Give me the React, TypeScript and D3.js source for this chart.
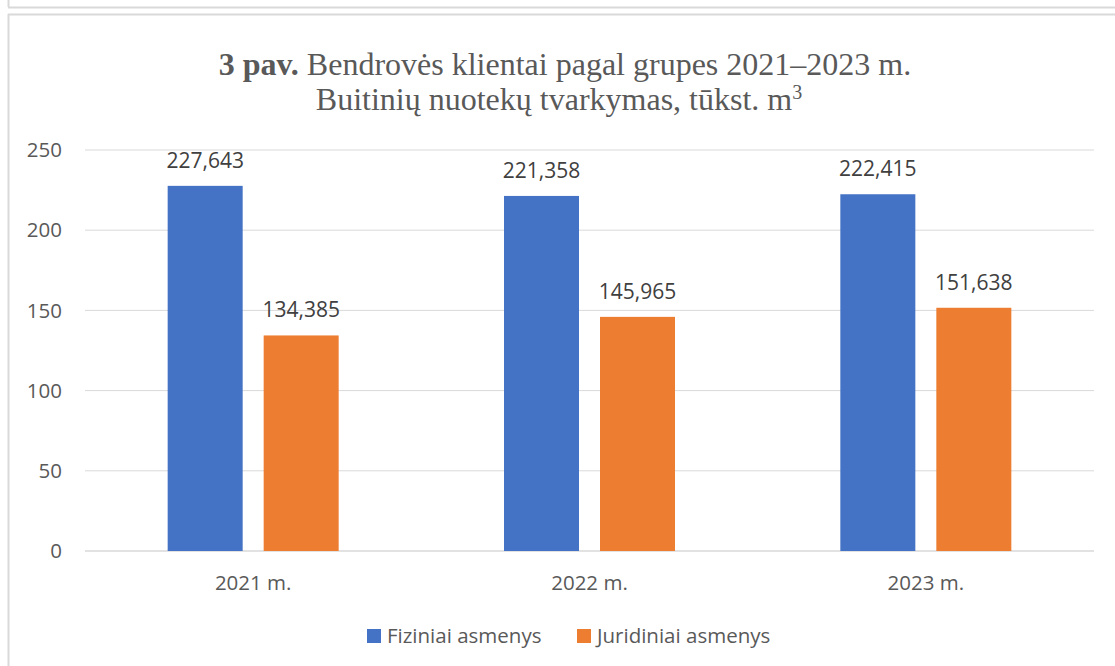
import React from "react";
import * as d3 from "d3";

const categories = ["2021 m.", "2022 m.", "2023 m."];
const seriesNames = ["Fiziniai asmenys", "Juridiniai asmenys"];
const fiziniai = [227.643, 221.358, 222.415];
const juridiniai = [134.385, 145.965, 151.638];
const yTicks = [0, 50, 100, 150, 200, 250];
const colors = ["#4472C4", "#ED7D31"];

const W = 1115;
const H = 666;

export default function App() {
  const x = d3.scaleBand<string>().domain(categories).range([85, 1094]).paddingInner(0).paddingOuter(0);
  const y = d3.scaleLinear().domain([0, 250]).range([551, 150]);
  const barW = 75;
  const barGap = 21;
  const series = [fiziniai, juridiniai];
  const fmt = (v: number) => d3.format(".3f")(v).replace(".", ",");
  const font = "'Open Sans', sans-serif";
  const txt = "#595959";

  return (
    <svg width={W} height={H} style={{ position: "absolute", left: 0, top: 0, background: "#fff" }}>
      {/* frame lines */}
      <line x1={8.5} y1={0} x2={8.5} y2={7} stroke="#d9d9d9" strokeWidth={2} />
      <line x1={8} y1={7.5} x2={W} y2={7.5} stroke="#d9d9d9" strokeWidth={2} />
      <line x1={8} y1={14.5} x2={W} y2={14.5} stroke="#d9d9d9" strokeWidth={2} />
      <line x1={8.5} y1={14} x2={8.5} y2={H} stroke="#d9d9d9" strokeWidth={2} />

      {/* title */}
      <text x={565} y={75} textAnchor="middle" fontFamily="'Liberation Serif', serif" fontSize={32} fill={txt}>
        <tspan fontWeight="bold">3 pav.</tspan>
        <tspan> Bendrovės klientai pagal grupes 2021–2023 m.</tspan>
      </text>
      <text x={559} y={110} textAnchor="middle" fontFamily="'Liberation Serif', serif" fontSize={32} fill={txt}>
        <tspan>Buitinių nuotekų tvarkymas, tūkst. m</tspan>
        <tspan fontSize={20} dy={-11}>3</tspan>
      </text>

      {/* gridlines & y labels */}
      {yTicks.map((t) => (
        <g key={t}>
          <line x1={85} x2={1094} y1={y(t)} y2={y(t)} stroke="#d9d9d9" strokeWidth={t === 0 ? 1.5 : 1} />
          <text x={62} y={y(t)} dy="0.35em" textAnchor="end" fontFamily={font} fontSize={20.5} fill={txt}>
            {t}
          </text>
        </g>
      ))}

      {/* bars */}
      {categories.map((c, i) => {
        const cx = (x(c) as number) + x.bandwidth() / 2;
        const start = cx - (2 * barW + barGap) / 2;
        return (
          <g key={c}>
            {series.map((s, j) => {
              const bx = start + j * (barW + barGap);
              const v = s[i];
              return (
                <g key={j}>
                  <rect x={bx} y={y(v)} width={barW} height={y(0) - y(v)} fill={colors[j]} />
                  <text x={bx + barW / 2} y={y(v) - 18} textAnchor="middle" fontFamily={font} fontSize={21} fill="#404040">
                    {fmt(v)}
                  </text>
                </g>
              );
            })}
            <text x={cx} y={589.5} textAnchor="middle" fontFamily={font} fontSize={20.5} fill={txt}>
              {c}
            </text>
          </g>
        );
      })}

      {/* legend */}
      {seriesNames.map((n, j) => {
        const lx = [367, 577][j];
        return (
          <g key={n}>
            <rect x={lx} y={629} width={14} height={14} fill={colors[j]} />
            <text x={lx + 20} y={643} fontFamily={font} fontSize={20.5} fill={txt}>
              {n}
            </text>
          </g>
        );
      })}
    </svg>
  );
}
